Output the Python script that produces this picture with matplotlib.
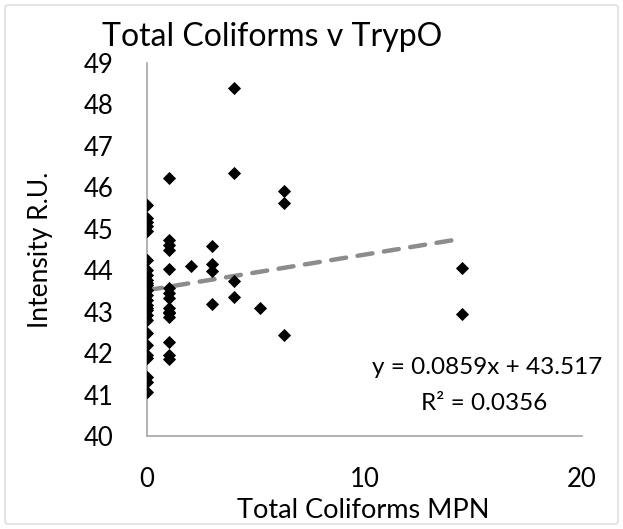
import matplotlib
matplotlib.use("Agg")
import matplotlib.pyplot as plt
import numpy as np
from matplotlib.patches import FancyBboxPatch

# Data
x_vals = [0]*26 + [1]*15 + [2] + [3]*4 + [4]*4 + [5.2] + [6.3]*3 + [14.5]*2
y_vals = [
    # x = 0
    45.57, 45.27, 45.17, 45.06, 44.95, 44.25, 44.00, 43.88, 43.76, 43.64,
    43.52, 43.40, 43.28, 43.16, 43.04, 42.92, 42.80, 42.48, 42.20, 41.95,
    41.88, 41.43, 41.31, 41.07, 43.70, 43.10,
    # x = 1
    46.22, 44.73, 44.61, 44.49, 44.03, 43.58, 43.46, 43.33, 43.08, 42.96,
    42.86, 42.27, 41.95, 41.86, 43.00,
    # x = 2
    44.10,
    # x = 3
    44.59, 44.14, 43.97, 43.18,
    # x = 4
    48.39, 46.34, 43.75, 43.35,
    # x = 5.2
    43.08,
    # x = 6.3
    45.91, 45.61, 42.43,
    # x = 14.5
    44.06, 42.94,
]
slope = 0.0859
intercept = 43.517
x_ticks = [0, 10, 20]
y_ticks = [40, 41, 42, 43, 44, 45, 46, 47, 48, 49]

plt.rcParams['font.family'] = ['Lato', 'DejaVu Sans']

fig = plt.figure(figsize=(6.23, 5.29), dpi=100)
ax = fig.add_axes([147/623, 1-436/529, (582-147)/623, (436-63)/529])

ax.scatter(x_vals, y_vals, marker='D', s=6.7**2, color='black', zorder=3, linewidths=0)

xs = np.array([min(x_vals), 14.0])
ax.plot(xs, slope*xs + intercept, linestyle=(0, (3.4, 2.6)), color='#8c8c8c',
        linewidth=3.2, solid_capstyle='round', dash_capstyle='round', zorder=2)

ax.set_xlim(0, 20)
ax.set_ylim(40, 49)
ax.set_xticks(x_ticks)
ax.set_yticks(y_ticks)
ax.tick_params(length=0, labelsize=18.5, colors='black')
ax.tick_params(axis='x', pad=22)
ax.tick_params(axis='y', pad=24)
for s in ['top', 'right']:
    ax.spines[s].set_visible(False)
for s in ['left', 'bottom']:
    ax.spines[s].set_color('#a6a6a6')
    ax.spines[s].set_linewidth(1.2)

fig.text(272/623, 1-37/529, 'Total Coliforms v TrypO', fontsize=23, ha='center', va='center')
fig.text(363/623, 1-510/529, 'Total Coliforms MPN', fontsize=19.5, ha='center', va='center')
ax.set_ylabel('Intensity R.U.', fontsize=19, labelpad=22)

fig.text(602/623, 1-367/529, 'y = 0.0859x + 43.517', fontsize=17.5, ha='right', va='center')
fig.text(484/623, 1-403/529, 'R² = 0.0356', fontsize=17.5, ha='center', va='center')

border = FancyBboxPatch((5/623, 5/529), 613/623, 519/529, boxstyle='round,pad=0,rounding_size=0.005',
                        transform=fig.transFigure, fill=False, edgecolor='#d9d9d9', linewidth=1)
fig.patches.append(border)

fig.savefig('out.png', dpi=100)
